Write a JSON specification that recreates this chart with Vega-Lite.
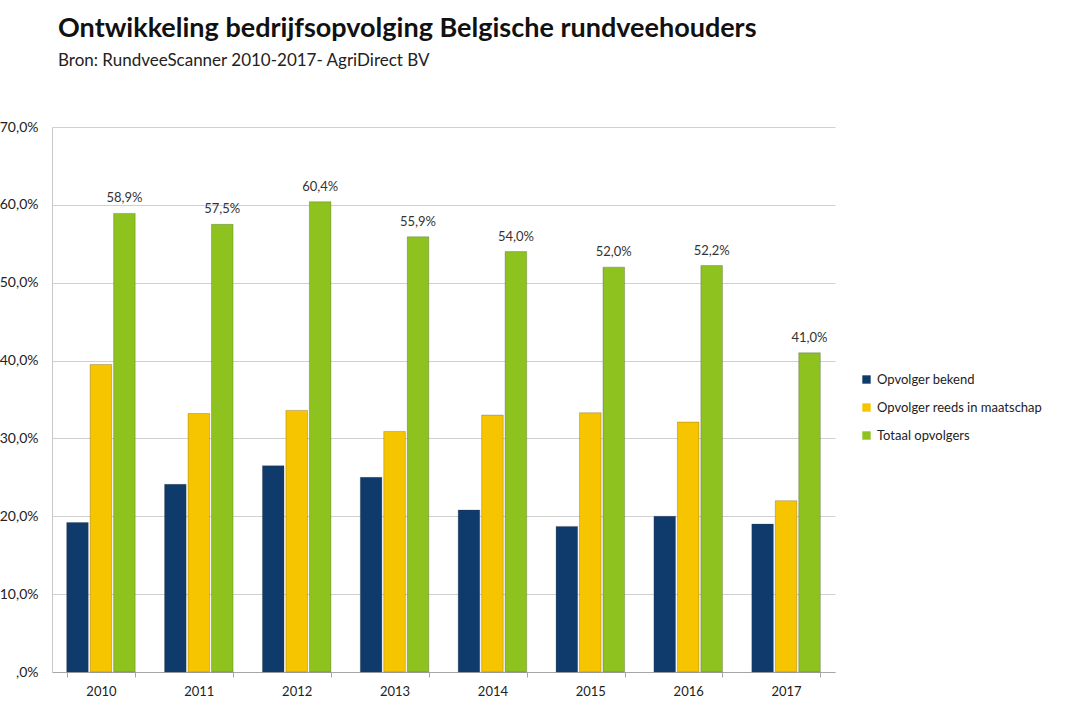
{
  "$schema": "https://vega.github.io/schema/vega-lite/v6.json",
  "width": 783,
  "height": 545,
  "autosize": {"type": "none"},
  "padding": {"left": 52, "top": 127, "right": 235, "bottom": 41},
  "background": "white",
  "title": {
    "text": "Ontwikkeling bedrijfsopvolging Belgische rundveehouders",
    "subtitle": "Bron: RundveeScanner 2010-2017- AgriDirect BV",
    "anchor": "start",
    "frame": "group",
    "dx": 6,
    "offset": 50,
    "font": "Lato",
    "fontSize": 27,
    "fontWeight": "bold",
    "color": "#111111",
    "subtitleFont": "Lato",
    "subtitleFontSize": 17,
    "subtitleColor": "#222222",
    "subtitlePadding": 10
  },
  "data": {
    "values": [
      {"jaar": "2010", "reeks": "Opvolger bekend", "waarde": 0.192},
      {"jaar": "2010", "reeks": "Opvolger reeds in maatschap", "waarde": 0.395},
      {"jaar": "2010", "reeks": "Totaal opvolgers", "waarde": 0.589},
      {"jaar": "2011", "reeks": "Opvolger bekend", "waarde": 0.241},
      {"jaar": "2011", "reeks": "Opvolger reeds in maatschap", "waarde": 0.332},
      {"jaar": "2011", "reeks": "Totaal opvolgers", "waarde": 0.575},
      {"jaar": "2012", "reeks": "Opvolger bekend", "waarde": 0.265},
      {"jaar": "2012", "reeks": "Opvolger reeds in maatschap", "waarde": 0.336},
      {"jaar": "2012", "reeks": "Totaal opvolgers", "waarde": 0.604},
      {"jaar": "2013", "reeks": "Opvolger bekend", "waarde": 0.250},
      {"jaar": "2013", "reeks": "Opvolger reeds in maatschap", "waarde": 0.309},
      {"jaar": "2013", "reeks": "Totaal opvolgers", "waarde": 0.559},
      {"jaar": "2014", "reeks": "Opvolger bekend", "waarde": 0.208},
      {"jaar": "2014", "reeks": "Opvolger reeds in maatschap", "waarde": 0.330},
      {"jaar": "2014", "reeks": "Totaal opvolgers", "waarde": 0.540},
      {"jaar": "2015", "reeks": "Opvolger bekend", "waarde": 0.187},
      {"jaar": "2015", "reeks": "Opvolger reeds in maatschap", "waarde": 0.333},
      {"jaar": "2015", "reeks": "Totaal opvolgers", "waarde": 0.520},
      {"jaar": "2016", "reeks": "Opvolger bekend", "waarde": 0.200},
      {"jaar": "2016", "reeks": "Opvolger reeds in maatschap", "waarde": 0.321},
      {"jaar": "2016", "reeks": "Totaal opvolgers", "waarde": 0.522},
      {"jaar": "2017", "reeks": "Opvolger bekend", "waarde": 0.190},
      {"jaar": "2017", "reeks": "Opvolger reeds in maatschap", "waarde": 0.220},
      {"jaar": "2017", "reeks": "Totaal opvolgers", "waarde": 0.410}
    ]
  },
  "encoding": {
    "x": {
      "field": "jaar",
      "type": "nominal",
      "title": null,
      "scale": {"paddingInner": 0.3, "paddingOuter": 0.15},
      "axis": {
        "labelAngle": 0,
        "labelFont": "Lato",
        "labelFontSize": 13,
        "labelColor": "#222222",
        "labelPadding": 8,
        "domainColor": "#a6a6a6",
        "tickColor": "#a6a6a6",
        "tickBand": "extent",
        "tickSize": 5
      }
    },
    "xOffset": {
      "field": "reeks",
      "type": "nominal",
      "sort": ["Opvolger bekend", "Opvolger reeds in maatschap", "Totaal opvolgers"],
      "scale": {"paddingInner": 0.08}
    },
    "y": {
      "field": "waarde",
      "type": "quantitative",
      "title": null,
      "scale": {"domain": [0, 0.7]},
      "axis": {
        "values": [0, 0.1, 0.2, 0.3, 0.4, 0.5, 0.6, 0.7],
        "format": ".1%",
        "labelExpr": "datum.value == 0 ? ',0%' : datum.label",
        "labelFont": "Lato",
        "labelFontSize": 14,
        "labelColor": "#222222",
        "labelPadding": 14,
        "ticks": false,
        "domainColor": "#c8c8c8",
        "gridColor": "#d0d0d0"
      }
    }
  },
  "layer": [
    {
      "mark": {"type": "bar", "stroke": "#3a3a3a", "strokeOpacity": 0.35, "strokeWidth": 0.8},
      "encoding": {
        "color": {
          "field": "reeks",
          "type": "nominal",
          "title": null,
          "sort": ["Opvolger bekend", "Opvolger reeds in maatschap", "Totaal opvolgers"],
          "scale": {
            "domain": ["Opvolger bekend", "Opvolger reeds in maatschap", "Totaal opvolgers"],
            "range": ["#0e3a6c", "#f7c500", "#8dc21f"]
          },
          "legend": {
            "orient": "none",
            "legendX": 808,
            "legendY": 246,
            "symbolType": "square",
            "symbolSize": 70,
            "symbolStrokeWidth": 0,
            "labelFont": "Lato",
            "labelFontSize": 13,
            "labelColor": "#222222",
            "labelOffset": 4,
            "labelLimit": 0,
            "rowPadding": 14
          }
        }
      }
    },
    {
      "transform": [{"filter": "datum.reeks == 'Totaal opvolgers'"}],
      "mark": {"type": "text", "baseline": "bottom", "dy": -8, "font": "Lato", "fontSize": 13, "color": "#333333"},
      "encoding": {
        "text": {"field": "waarde", "type": "quantitative", "format": ".1%"}
      }
    }
  ],
  "config": {
    "locale": {
      "number": {
        "decimal": ",",
        "thousands": ".",
        "grouping": [3],
        "currency": ["€", ""]
      }
    },
    "view": {"stroke": null}
  }
}
